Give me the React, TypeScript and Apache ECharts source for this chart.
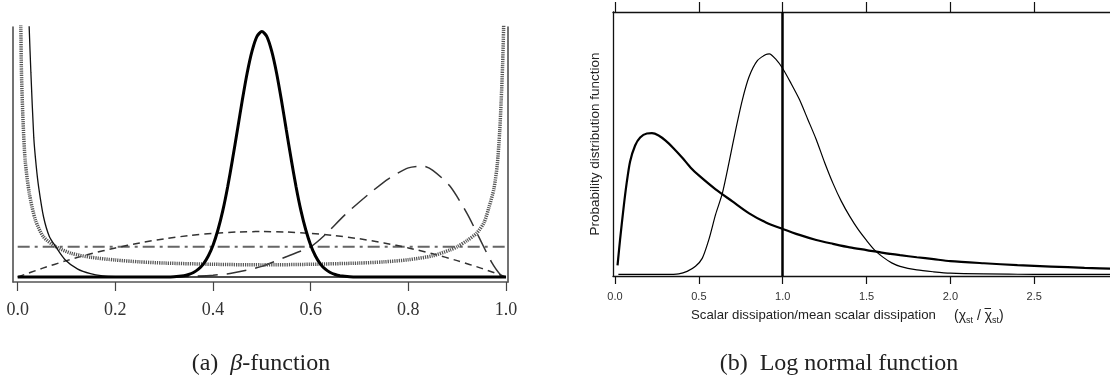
import React, { useEffect, useRef } from 'react';
import * as echarts from 'echarts';

// ---------- (a) beta-function panel ----------
const betaTicks = [0, 0.2, 0.4, 0.6, 0.8, 1.0];

// narrow symmetric beta (thick solid)
const betaNarrow: number[][] = [
  [0, 0], [0.1, 0], [0.2, 0], [0.28, 0], [0.3, 0.002], [0.32, 0.011], [0.34, 0.044], [0.35, 0.082],
  [0.36, 0.148], [0.37, 0.258], [0.38, 0.428], [0.39, 0.685], [0.4, 1.05], [0.41, 1.55], [0.42, 2.19],
  [0.43, 2.98], [0.44, 3.89], [0.45, 4.86], [0.46, 5.84], [0.47, 6.74], [0.48, 7.46], [0.49, 7.94],
  [0.5, 8.1], [0.51, 7.94], [0.52, 7.46], [0.53, 6.74], [0.54, 5.84], [0.55, 4.86], [0.56, 3.89],
  [0.57, 2.98], [0.58, 2.19], [0.59, 1.55], [0.6, 1.05], [0.61, 0.685], [0.62, 0.428], [0.63, 0.258],
  [0.64, 0.148], [0.65, 0.082], [0.66, 0.044], [0.68, 0.011], [0.7, 0.002], [0.72, 0], [0.8, 0], [0.9, 0], [1.0, 0],
];

// left-skewed beta (thin solid)
const betaLeft: number[][] = [
  [0.021, 9.5], [0.0237, 8.17], [0.027, 6.76], [0.033, 4.59], [0.038, 3.65], [0.043, 2.96], [0.053, 1.98],
  [0.065, 1.33], [0.078, 1.0], [0.097, 0.57], [0.123, 0.26], [0.149, 0.11], [0.174, 0.04], [0.2, 0.015],
  [0.25, 0.003], [0.3, 0], [0.5, 0], [0.75, 0], [1.0, 0],
];

// U-shaped beta (dotted)
const betaU: number[][] = [
  [0.004, 9.5], [0.0064, 8.2], [0.0077, 6.76], [0.011, 5.13], [0.0154, 3.83], [0.024, 2.74], [0.0365, 1.87],
  [0.0526, 1.33], [0.078, 1.0], [0.11, 0.78], [0.15, 0.65], [0.2, 0.56], [0.25, 0.5], [0.3, 0.46], [0.4, 0.42],
  [0.5, 0.4], [0.6, 0.42], [0.7, 0.46], [0.75, 0.5], [0.8, 0.57], [0.85, 0.7], [0.885, 0.89], [0.9, 1.0],
  [0.92, 1.2], [0.94, 1.45], [0.955, 1.8], [0.965, 2.3], [0.975, 2.9], [0.982, 3.7], [0.987, 4.8], [0.99, 5.8],
  [0.993, 7.0], [0.995, 8.2], [0.997, 9.5],
];

// broad symmetric beta (short dashes)
const betaBroad: number[][] = [
  [0, 0], [0.05, 0.285], [0.1, 0.54], [0.15, 0.765], [0.2, 0.96], [0.25, 1.125], [0.3, 1.26], [0.35, 1.365],
  [0.4, 1.44], [0.45, 1.485], [0.5, 1.5], [0.55, 1.485], [0.6, 1.44], [0.65, 1.365], [0.7, 1.26], [0.75, 1.125],
  [0.8, 0.96], [0.85, 0.765], [0.9, 0.54], [0.95, 0.285], [1.0, 0],
];

// right-skewed beta (long dashes)
const betaRight: number[][] = [
  [0.25, 0], [0.3, 0.005], [0.35, 0.02], [0.4, 0.06], [0.44, 0.13], [0.5, 0.35], [0.55, 0.67], [0.6, 1.0],
  [0.63, 1.4], [0.67, 2.05], [0.72, 2.75], [0.76, 3.25], [0.8, 3.6], [0.83, 3.66], [0.85, 3.52], [0.885, 3.0],
  [0.92, 2.1], [0.945, 1.3], [0.97, 0.5], [0.99, 0.05], [1.0, 0],
];

// uniform (dash-dot)
const betaFlat: number[][] = [[0, 1], [1, 1]];

// ---------- (b) log normal panel ----------
const lnTicks = [0, 0.5, 1.0, 1.5, 2.0, 2.5];
const meanLine = 1.0;

const lnWide: number[][] = [
  [0.015, 0.07], [0.03, 0.27], [0.05, 0.51], [0.07, 0.72], [0.09, 0.885], [0.12, 1.01], [0.15, 1.073],
  [0.19, 1.104], [0.22, 1.106], [0.26, 1.088], [0.3, 1.05], [0.35, 0.987], [0.4, 0.916], [0.45, 0.838],
  [0.5, 0.775], [0.6, 0.666], [0.7, 0.572], [0.8, 0.478], [0.9, 0.407], [1.0, 0.356], [1.1, 0.309],
  [1.2, 0.269], [1.3, 0.239], [1.4, 0.211], [1.5, 0.19], [1.6, 0.168], [1.7, 0.15], [1.8, 0.134],
  [1.9, 0.119], [2.0, 0.104], [2.2, 0.087], [2.4, 0.072], [2.6, 0.061], [2.8, 0.051], [3.0, 0.043],
];

const lnNarrow: number[][] = [
  [0.02, 0], [0.2, 0], [0.3, 0], [0.38, 0.004], [0.43, 0.023], [0.48, 0.063], [0.52, 0.125], [0.56, 0.274],
  [0.6, 0.47], [0.64, 0.634], [0.68, 0.877], [0.72, 1.135], [0.76, 1.37], [0.8, 1.55], [0.85, 1.676],
  [0.9, 1.723], [0.92, 1.728], [0.96, 1.684], [1.0, 1.613], [1.05, 1.496], [1.1, 1.37], [1.15, 1.214],
  [1.2, 1.057], [1.25, 0.877], [1.3, 0.713], [1.35, 0.572], [1.4, 0.454], [1.45, 0.352], [1.5, 0.266],
  [1.55, 0.188], [1.6, 0.133], [1.65, 0.09], [1.7, 0.063], [1.8, 0.035], [1.9, 0.02], [2.0, 0.009],
  [2.2, 0.003], [2.5, 0], [3.0, 0],
];

const SERIF = "'Liberation Serif', 'Times New Roman', serif";
const SANS = "'Liberation Sans', Arial, sans-serif";

function lineSeries(data: number[][], xi: number, yi: number, color: string, width: number, type: any, extra: any = {}) {
  return {
    type: 'line',
    xAxisIndex: xi,
    yAxisIndex: yi,
    data,
    showSymbol: false,
    symbol: 'none',
    smooth: 0.25,
    lineStyle: { color, width, type },
    ...extra,
  };
}

export default function App() {
  const ref = useRef<HTMLDivElement>(null);
  useEffect(() => {
    const chart = echarts.init(ref.current!, null, { renderer: 'svg' });
    const fmt = (v: number) => v.toFixed(1);
    chart.setOption({
      animation: false,
      textStyle: { fontFamily: SANS },
      grid: [
        { left: 13, right: 602, top: 27, bottom: 97 },
        { left: 613, right: 0, top: 12, bottom: 103 },
      ],
      xAxis: [
        {
          gridIndex: 0, type: 'value', min: -0.0096, max: 1.004,
          axisLine: { onZero: false, lineStyle: { color: '#555', width: 1.5 } },
          axisTick: { customValues: betaTicks, length: 9, lineStyle: { color: '#444', width: 1.2 } },
          axisLabel: { customValues: betaTicks, formatter: fmt, fontFamily: SERIF, fontSize: 18, color: '#333', margin: 18 },
          splitLine: { show: false },
        },
        {
          gridIndex: 1, type: 'value', min: -0.012, max: 2.952, position: 'bottom',
          axisLine: { onZero: false, lineStyle: { color: '#111', width: 1.3 } },
          axisTick: { customValues: lnTicks, length: 8, lineStyle: { color: '#111', width: 1.2 } },
          axisLabel: { customValues: lnTicks, formatter: fmt, fontFamily: SANS, fontSize: 11, color: '#333', margin: 14 },
          splitLine: { show: false },
        },
        {
          gridIndex: 1, type: 'value', min: -0.012, max: 2.952, position: 'top',
          axisLine: { onZero: false, lineStyle: { color: '#111', width: 1.3 } },
          axisTick: { customValues: lnTicks, length: 10, lineStyle: { color: '#111', width: 1.2 } },
          axisLabel: { show: false },
          splitLine: { show: false },
        },
      ],
      yAxis: [
        {
          gridIndex: 0, type: 'value', min: -0.165, max: 8.25, position: 'left',
          axisLine: { show: true, onZero: false, lineStyle: { color: '#444', width: 1.5 } },
          axisTick: { show: false }, axisLabel: { show: false }, splitLine: { show: false },
        },
        {
          gridIndex: 0, type: 'value', min: -0.165, max: 8.25, position: 'right',
          axisLine: { show: true, onZero: false, lineStyle: { color: '#444', width: 1.5 } },
          axisTick: { show: false }, axisLabel: { show: false }, splitLine: { show: false },
        },
        {
          gridIndex: 1, type: 'value', min: -0.013, max: 2.056, position: 'left',
          axisLine: { show: true, onZero: false, lineStyle: { color: '#111', width: 1.3 } },
          axisTick: { show: false }, axisLabel: { show: false }, splitLine: { show: false },
          name: 'Probability distribution function', nameLocation: 'middle', nameGap: 12,
          nameTextStyle: { fontFamily: SANS, fontSize: 13.5, color: '#222' },
        },
      ],
      series: [
        lineSeries(betaFlat, 0, 0, '#666', 2, [12, 5, 3, 5], { smooth: false }),
        lineSeries(betaBroad, 0, 0, '#333', 1.5, [7, 5]),
        lineSeries(betaRight, 0, 0, '#333', 1.5, [20, 9]),
        lineSeries(betaU, 0, 0, '#555', 3.5, [1.2, 1]),
        lineSeries(betaLeft, 0, 0, '#111', 1.3, 'solid'),
        lineSeries(betaNarrow, 0, 0, '#000', 3, 'solid'),
        lineSeries(lnNarrow, 1, 2, '#000', 1.2, 'solid'),
        lineSeries(lnWide, 1, 2, '#000', 2.2, 'solid', {
          markLine: {
            silent: true,
            symbol: ['none', 'none'],
            label: { show: false },
            lineStyle: { color: '#000', width: 2.5, type: 'solid' },
            data: [{ xAxis: meanLine }],
          },
        }),
      ],
      graphic: [
        {
          type: 'text', x: 261, y: 362,
          style: {
            text: '{n|(a)  }{i|β}{n|-function}',
            align: 'center', verticalAlign: 'middle',
            rich: {
              n: { fontFamily: SERIF, fontSize: 24, fill: '#222' },
              i: { fontFamily: SERIF, fontSize: 24, fontStyle: 'italic', fill: '#222' },
            },
          },
        },
        {
          type: 'text', x: 839, y: 362,
          style: {
            text: '(b)  Log normal function',
            align: 'center', verticalAlign: 'middle',
            fontFamily: SERIF, fontSize: 24, fill: '#222',
          },
        },
        {
          type: 'text', x: 691, y: 314,
          style: {
            text: 'Scalar dissipation/mean scalar dissipation',
            align: 'left', verticalAlign: 'middle',
            fontFamily: SANS, fontSize: 13.2, fill: '#222',
          },
        },
        {
          type: 'text', x: 954, y: 315,
          style: {
            text: '{a|(χ}{b|st}{a| / χ}{b|st}{a|)}',
            align: 'left', verticalAlign: 'middle',
            rich: {
              a: { fontFamily: SANS, fontSize: 14, fill: '#222', lineHeight: 18, verticalAlign: 'middle' },
              b: { fontFamily: SANS, fontSize: 9, fill: '#222', lineHeight: 9, verticalAlign: 'bottom' },
            },
          },
        },
        {
          type: 'line',
          shape: { x1: 984.5, y1: 308.5, x2: 991, y2: 308.5 },
          style: { stroke: '#222', lineWidth: 1 },
        },
      ],
    });
    return () => chart.dispose();
  }, []);
  return <div ref={ref} style={{ position: 'fixed', left: 0, top: 0, width: 1110, height: 379 }} />;
}
